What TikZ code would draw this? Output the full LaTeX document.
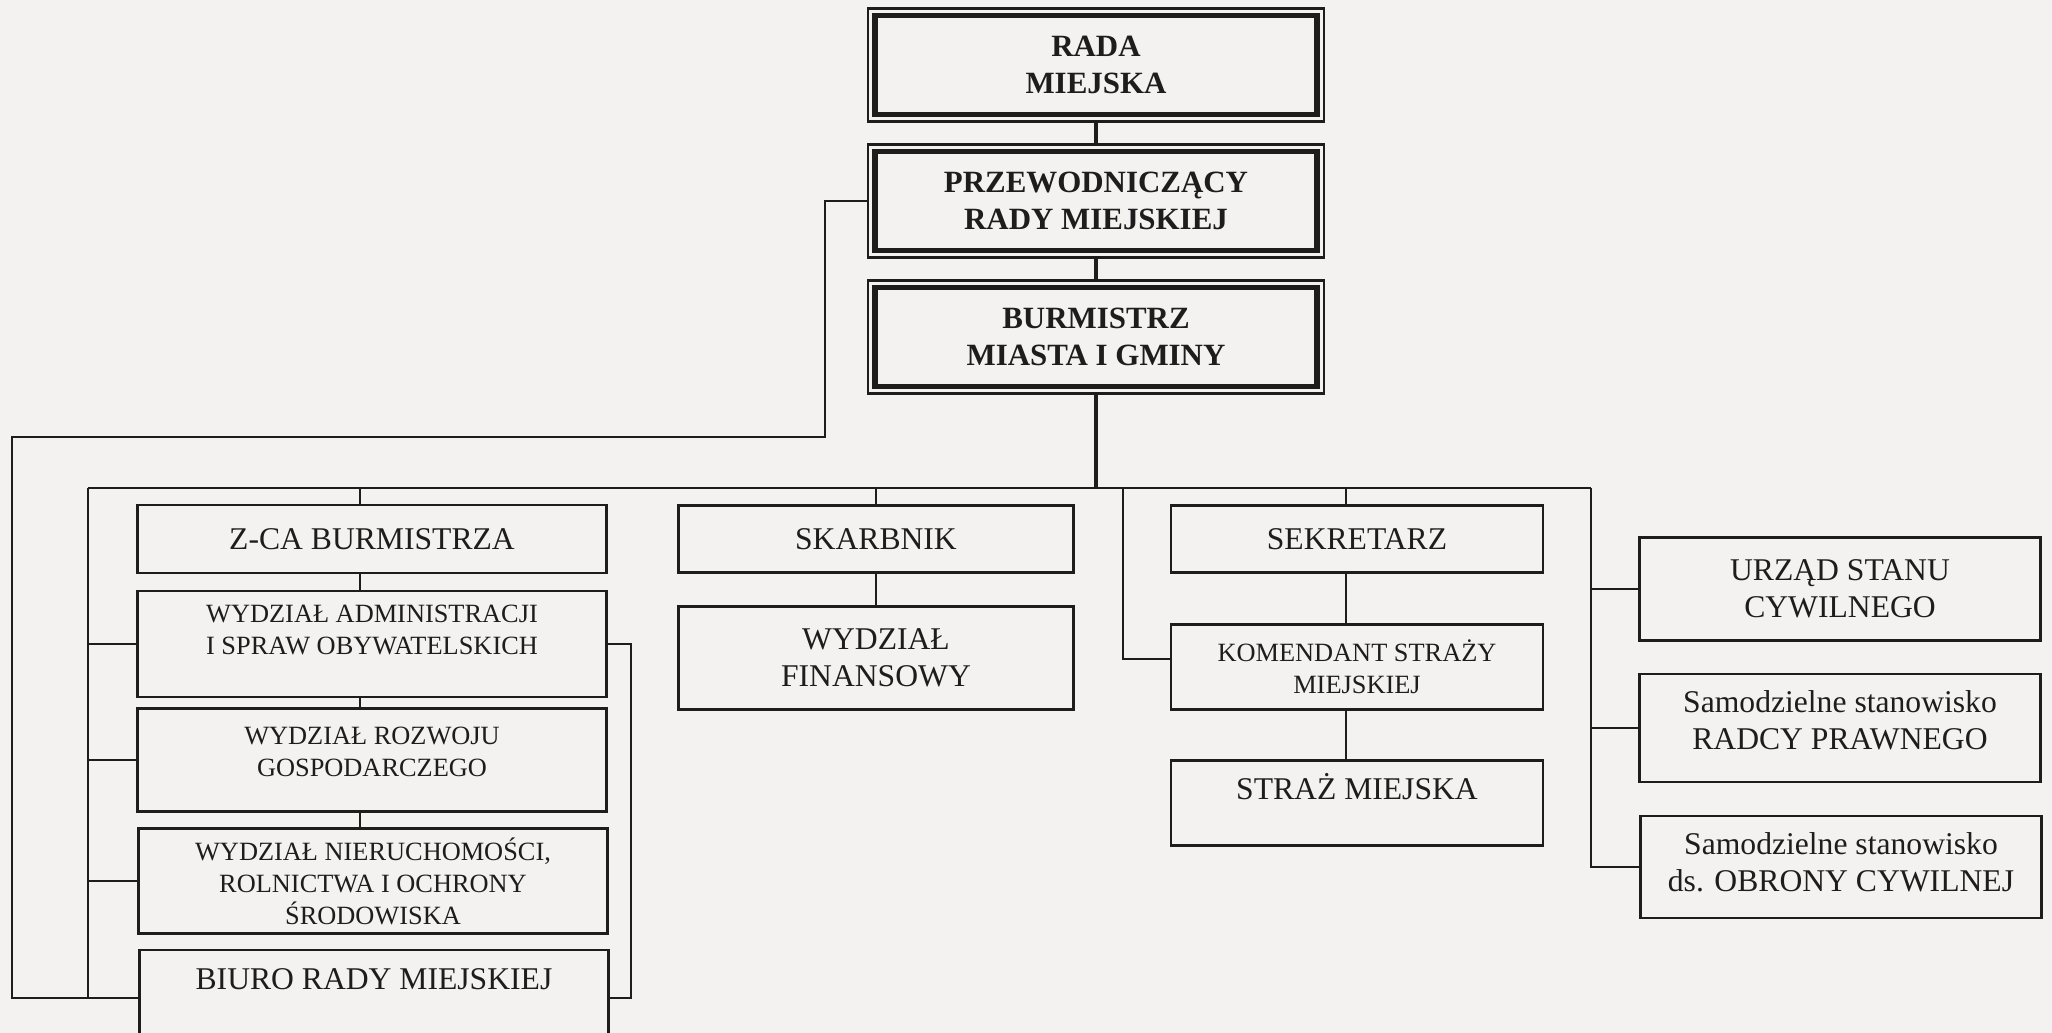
\documentclass[tikz,border=0pt]{standalone}
\usepackage{fontspec}
\setmainfont{Liberation Serif}
\usetikzlibrary{calc}
\definecolor{paper}{RGB}{243,242,240}
\definecolor{ink}{RGB}{30,28,28}
\newcommand*{\up}[2]{\raisebox{#1}[\height][\depth]{\begin{tabular}{@{}c@{}}#2\end{tabular}}}
\tikzset{%
  box/.style={draw=ink, line width=0.6pt, inner sep=0pt, outer sep=0pt, align=center,
    text=ink, font=\fontsize{9}{10.5}\selectfont},% unit box
  smallbox/.style={box, font=\fontsize{7.5}{9.1}\selectfont},% unit box, smaller text
  topbox/.style={box, minimum width=45.6mm, minimum height=11.3mm,
    font=\bfseries\fontsize{8.8}{10.5}\selectfont},% council / mayor
  link/.style={draw=ink, line width=0.6pt},% thin connector
  trunk/.style={draw=ink, line width=1.4pt}% main line
}
\begin{document}
\begin{tikzpicture}[x=0.1mm, y=-0.1mm]
\useasboundingbox (0,0) rectangle (2052,1033);
\clip (0,0) rectangle (2052,1033);
\fill[paper] (0,0) rectangle (2052,1033);

% top of the chart
\node[topbox] (rada) at (1096, 65) {RADA\\MIEJSKA};
\node[topbox] (przew) at (1096, 201) {PRZEWODNICZĄCY\\RADY MIEJSKIEJ};
\node[topbox] (burm) at (1096, 337) {BURMISTRZ\\MIASTA I GMINY};
\foreach \b in {rada, przew, burm}
  \draw[ink, line width=1.7pt] ([shift={(0.7mm,-0.7mm)}]\b.north west)
    rectangle ([shift={(-0.7mm,0.7mm)}]\b.south east);

% left column
\node[box, minimum width=46.9mm, minimum height=6.8mm] (zca) at (372, 539) {Z-CA BURMISTRZA};
\node[smallbox, minimum width=46.9mm, minimum height=10.6mm] (wa) at (372, 644) {\up{1.2mm}{WYDZIAŁ ADMINISTRACJI\\I SPRAW OBYWATELSKICH}};
\node[smallbox, minimum width=46.9mm, minimum height=10.3mm] (wr) at (372, 760) {\up{0.6mm}{WYDZIAŁ ROZWOJU\\GOSPODARCZEGO}};
\node[smallbox, minimum width=46.9mm, minimum height=10.5mm] (wn) at (373, 881) {WYDZIAŁ NIERUCHOMOŚCI,\\ROLNICTWA I OCHRONY\\ŚRODOWISKA};
\node[box, minimum width=46.9mm, text height=4mm, text depth=5.6mm] (biuro) at (374, 998) {BIURO RADY MIEJSKIEJ};

% middle
\node[box, minimum width=39.5mm, minimum height=6.7mm] (skarb) at (876, 539) {SKARBNIK};
\node[box, minimum width=39.5mm, minimum height=10.3mm] (fin) at (876, 658) {WYDZIAŁ\\FINANSOWY};
\node[box, minimum width=37.2mm, minimum height=6.7mm] (sekr) at (1357, 539) {SEKRETARZ};
\node[smallbox, minimum width=37.2mm, minimum height=8.5mm] (kom) at (1357, 667) {KOMENDANT STRAŻY\\MIEJSKIEJ};
\node[box, minimum width=37.2mm, text height=3.9mm, text depth=4.6mm] (straz) at (1357, 803) {STRAŻ MIEJSKA};

% right column
\node[box, minimum width=40.1mm, minimum height=10.3mm] (usc) at (1840, 589) {URZĄD STANU\\CYWILNEGO};
\node[box, minimum width=40.1mm, minimum height=10.8mm] (radca) at (1840, 728) {\up{0.45mm}{Samodzielne stanowisko\\RADCY PRAWNEGO}};
\node[box, minimum width=40.1mm, minimum height=10.2mm] (oc) at (1841, 867) {\up{0.1mm}{Samodzielne stanowisko\\ds. OBRONY CYWILNEJ}};

\coordinate (bus) at (1096, 488);
\coordinate (busL) at (88, 488);
\coordinate (busR) at (1591, 488);
\coordinate (dz) at (360, 488);
\coordinate (ds) at (876, 488);
\coordinate (dk) at (1123, 488);
\coordinate (de) at (1346, 488);
\coordinate (br) at (631, 641);
\coordinate (ol) at (825, 437);
\coordinate (oll) at (12, 437);

\draw[trunk] (rada) -- (przew);
\draw[trunk] (przew) -- (burm);
\draw[trunk] (burm) -- (bus);
\draw[link] (busL) -- (busR);

\draw[link] (busL) |- (biuro.west);
\foreach \n in {wa, wr, wn}
  \draw[link] (busL |- \n.west) -- (\n.west);
\draw[link] (dz) -- (dz |- zca.north);
\foreach \a/\b in {zca/wa, wa/wr, wr/wn}
  \draw[link] (\a.south -| dz) -- (\b.north -| dz);
\draw[link] (wa.east) -- (wa.east -| br) |- (biuro.east);
\draw[link] (przew.west) -| (ol) -- (oll) |- (biuro.west);

\draw[link] (ds) -- (skarb.north);
\draw[link] (skarb) -- (fin);
\draw[link] (dk) |- ([yshift=0.8mm]kom.west);
\draw[link] (de) -- (de |- sekr.north);
\draw[link] (sekr.south -| de) -- (kom.north -| de);
\draw[link] (kom.south -| de) -- (straz.north -| de);

\draw[link] (busR) |- (oc.west);
\foreach \n in {usc, radca}
  \draw[link] (busR |- \n.west) -- (\n.west);
\end{tikzpicture}
\end{document}
